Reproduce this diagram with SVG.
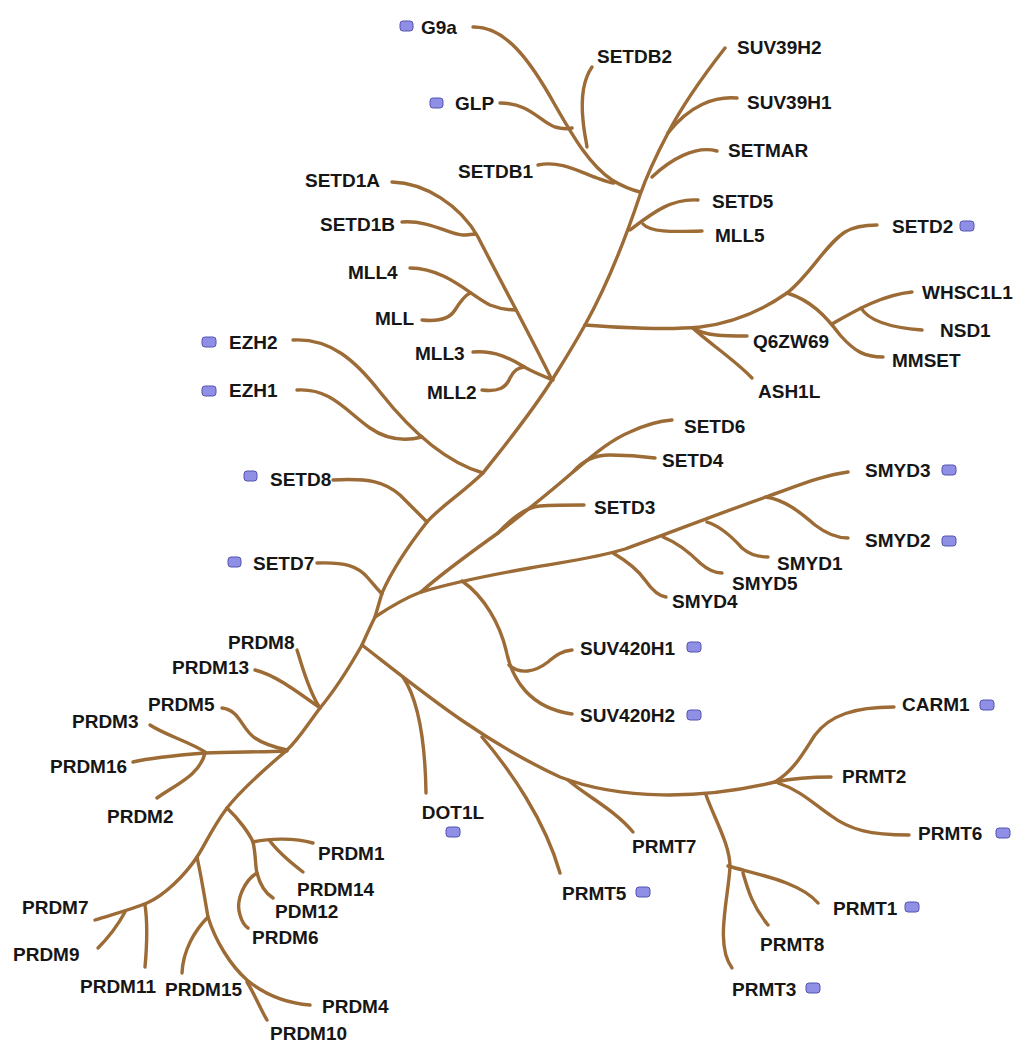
<svg xmlns="http://www.w3.org/2000/svg" width="1015" height="1043" viewBox="0 0 1015 1043">
<style>
.b{fill:none;stroke:#9c6b36;stroke-width:3.4;stroke-linecap:round;stroke-linejoin:round}
.t{font-family:"Liberation Sans",Arial,sans-serif;font-weight:bold;font-size:19px;fill:#161616}
.m{fill:#8f8fe6;stroke:#5555b0;stroke-width:1}
</style>
<rect width="1015" height="1043" fill="#ffffff"/>
<g id="connectors">
<!-- trunk -->
<path class="b" d="M725,48 C700,80 680,110 668,133 C658,152 647,175 640,195 C630,225 610,280 585,325 C570,352 560,367 552,380 C530,415 505,445 483,473 C460,495 440,507 427,522 C405,550 390,575 382,593 L375,617 C370,627 366,636 362,645 C345,675 335,690 320,708 C305,728 298,740 287,750 C270,765 245,785 227,808 C212,828 205,845 197,857 C185,875 165,895 147,903 C130,910 110,915 95,920"/>
<!-- top clade -->
<path class="b" d="M473,27 C505,26 530,60 555,105 C575,140 590,165 612,180 C622,186 632,190 640,192"/>
<path class="b" d="M500,103 C530,103 540,122 555,127 C562,129 568,129 572,128"/>
<path class="b" d="M592,67 C583,80 581,100 583,120 C584,132 586,140 587,147"/>
<path class="b" d="M538,165 C560,160 580,172 597,178 C605,181 610,183 614,183"/>
<path class="b" d="M737,98 C715,96 690,105 668,133"/>
<path class="b" d="M717,151 C695,145 670,160 652,177"/>
<path class="b" d="M630,230 C650,215 670,198 698,200"/>
<path class="b" d="M643,224 C650,232 670,232 702,231"/>
<!-- SETD2 clade -->
<path class="b" d="M585,325 C620,328 670,330 700,327 C740,322 770,305 787,293 C810,275 825,245 845,232 C855,226 865,225 877,225"/>
<path class="b" d="M693,328 C705,336 725,336 747,336"/>
<path class="b" d="M693,328 C705,340 735,360 752,378"/>
<path class="b" d="M787,293 C810,300 825,315 840,335 C855,352 865,357 883,357"/>
<path class="b" d="M832,324 C850,314 880,295 912,292"/>
<path class="b" d="M861,308 C870,323 895,328 922,330"/>
<!-- SETD1 / MLL clade -->
<path class="b" d="M392,182 C425,183 460,205 478,237 C500,280 530,335 552,380"/>
<path class="b" d="M402,222 C430,220 450,235 463,235 C468,235 472,234 476,234"/>
<path class="b" d="M410,268 C445,268 470,295 490,305 C500,309 508,310 516,310"/>
<path class="b" d="M422,320 C440,322 450,318 455,310 C460,302 464,296 470,293"/>
<path class="b" d="M473,352 C500,350 515,362 530,370 C540,375 548,378 553,380"/>
<path class="b" d="M482,390 C498,392 506,388 510,378 C514,370 518,368 524,367"/>
<!-- EZH, SETD8, SETD7 -->
<path class="b" d="M293,340 C330,338 355,360 380,392 C410,430 445,462 483,473"/>
<path class="b" d="M297,390 C330,388 345,410 370,428 C390,442 410,440 422,437"/>
<path class="b" d="M333,480 C370,478 385,482 400,495 C412,507 420,515 427,522"/>
<path class="b" d="M317,563 C345,562 358,566 368,578 C374,585 378,590 382,594"/>
<!-- SETD / SMYD clade -->
<path class="b" d="M375,617 C390,607 405,598 421,592 C440,575 470,553 498,533 C525,512 550,492 573,472 C590,458 610,440 630,432 C645,425 658,421 672,420"/>
<path class="b" d="M498,533 C510,520 525,507 540,506 C555,505 568,505 584,505"/>
<path class="b" d="M573,472 C585,458 600,455 610,455 C625,455 640,456 655,458"/>
<path class="b" d="M421,592 C455,582 490,575 530,568 C570,561 600,557 625,549 C670,533 720,513 766,497 C795,487 820,476 848,472"/>
<path class="b" d="M613,553 C625,560 638,570 645,580 C652,590 658,596 666,597"/>
<path class="b" d="M663,537 C678,543 690,553 700,563 C708,570 714,573 722,573"/>
<path class="b" d="M707,522 C720,526 733,538 742,548 C750,555 758,557 768,557"/>
<path class="b" d="M766,497 C785,500 800,512 815,525 C828,535 838,538 848,538"/>
<path class="b" d="M462,581 C485,597 500,625 506,650 C512,680 530,708 572,714"/>
<path class="b" d="M509,665 C520,675 535,672 548,662 C556,655 562,651 572,650"/>
<!-- PRMT / DOT1L clade -->
<path class="b" d="M362,645 C420,690 480,740 560,777 C620,800 700,800 775,782"/>
<path class="b" d="M403,677 C415,695 425,730 426,793"/>
<path class="b" d="M482,737 C510,770 545,820 560,873"/>
<path class="b" d="M568,780 C585,795 615,810 633,832"/>
<path class="b" d="M706,795 C715,820 730,845 730,867 C728,900 715,945 732,968"/>
<path class="b" d="M728,866 C760,875 800,882 818,903"/>
<path class="b" d="M743,873 C748,890 752,905 768,925"/>
<path class="b" d="M775,782 C795,770 805,750 815,735 C830,715 855,707 894,707"/>
<path class="b" d="M775,782 C795,778 815,777 831,777"/>
<path class="b" d="M778,783 C800,790 815,805 830,815 C850,830 870,835 909,835"/>
<!-- PRDM clade -->
<path class="b" d="M297,650 C302,665 308,690 320,708"/>
<path class="b" d="M255,670 C275,675 295,690 320,708"/>
<path class="b" d="M222,708 C240,710 242,730 255,738 C265,745 278,748 287,750"/>
<path class="b" d="M287,751 C260,752 230,752 205,753 C180,755 150,758 133,762"/>
<path class="b" d="M150,725 C165,735 190,742 205,752"/>
<path class="b" d="M157,798 C175,785 200,775 205,753"/>
<path class="b" d="M227,808 C240,820 250,835 253,842 C256,855 255,865 257,873 C260,885 265,893 273,898"/>
<path class="b" d="M253,842 C270,838 295,838 313,843"/>
<path class="b" d="M270,841 C278,852 290,862 303,872"/>
<path class="b" d="M257,873 C245,880 235,900 240,915 C242,922 245,926 248,928"/>
<path class="b" d="M197,857 C202,880 205,900 208,917 C215,940 230,965 247,980 C265,995 285,1003 310,1005"/>
<path class="b" d="M247,982 C255,995 260,1008 267,1020"/>
<path class="b" d="M208,917 C195,930 183,950 182,973"/>
<path class="b" d="M125,912 C118,925 108,938 98,948"/>
<path class="b" d="M145,905 C148,925 147,945 145,967"/>
</g>
<g id="n-G9a"><rect class="m" x="400" y="21" width="13" height="10" rx="3"/><text class="t" x="421" y="34">G9a</text></g>
<g id="n-GLP"><rect class="m" x="430" y="98" width="13" height="10" rx="3"/><text class="t" x="455" y="110">GLP</text></g>
<g id="n-SETDB2"><text class="t" x="597" y="63">SETDB2</text></g>
<g id="n-SETDB1"><text class="t" x="458" y="178">SETDB1</text></g>
<g id="n-SUV39H2"><text class="t" x="737" y="54">SUV39H2</text></g>
<g id="n-SUV39H1"><text class="t" x="747" y="109">SUV39H1</text></g>
<g id="n-SETMAR"><text class="t" x="728" y="157">SETMAR</text></g>
<g id="n-SETD5"><text class="t" x="712" y="208">SETD5</text></g>
<g id="n-MLL5"><text class="t" x="715" y="242">MLL5</text></g>
<g id="n-SETD1A"><text class="t" x="305" y="187">SETD1A</text></g>
<g id="n-SETD1B"><text class="t" x="320" y="231">SETD1B</text></g>
<g id="n-MLL4"><text class="t" x="348" y="279">MLL4</text></g>
<g id="n-MLL"><text class="t" x="375" y="325">MLL</text></g>
<g id="n-EZH2"><rect class="m" x="202" y="337" width="14" height="10" rx="3"/><text class="t" x="229" y="349">EZH2</text></g>
<g id="n-EZH1"><rect class="m" x="202" y="386" width="14" height="10" rx="3"/><text class="t" x="229" y="397">EZH1</text></g>
<g id="n-MLL3"><text class="t" x="415" y="360">MLL3</text></g>
<g id="n-MLL2"><text class="t" x="427" y="399">MLL2</text></g>
<g id="n-SETD2"><text class="t" x="892" y="233">SETD2</text><rect class="m" x="960" y="221" width="14" height="10" rx="3"/></g>
<g id="n-WHSC1L1"><text class="t" x="922" y="299">WHSC1L1</text></g>
<g id="n-NSD1"><text class="t" x="940" y="337">NSD1</text></g>
<g id="n-MMSET"><text class="t" x="892" y="367">MMSET</text></g>
<g id="n-Q6ZW69"><text class="t" x="753" y="348">Q6ZW69</text></g>
<g id="n-ASH1L"><text class="t" x="758" y="398">ASH1L</text></g>
<g id="n-SETD6"><text class="t" x="684" y="433">SETD6</text></g>
<g id="n-SETD4"><text class="t" x="662" y="467">SETD4</text></g>
<g id="n-SETD3"><text class="t" x="594" y="514">SETD3</text></g>
<g id="n-SMYD3"><text class="t" x="865" y="477">SMYD3</text><rect class="m" x="942" y="465" width="14" height="10" rx="3"/></g>
<g id="n-SMYD2"><text class="t" x="865" y="547">SMYD2</text><rect class="m" x="942" y="536" width="14" height="10" rx="3"/></g>
<g id="n-SMYD1"><text class="t" x="777" y="570">SMYD1</text></g>
<g id="n-SMYD5"><text class="t" x="732" y="590">SMYD5</text></g>
<g id="n-SMYD4"><text class="t" x="672" y="608">SMYD4</text></g>
<g id="n-SETD8"><rect class="m" x="244" y="471" width="13" height="10" rx="3"/><text class="t" x="270" y="486">SETD8</text></g>
<g id="n-SETD7"><rect class="m" x="228" y="557" width="13" height="10" rx="3"/><text class="t" x="253" y="570">SETD7</text></g>
<g id="n-SUV420H1"><text class="t" x="580" y="655">SUV420H1</text><rect class="m" x="687" y="642" width="14" height="10" rx="3"/></g>
<g id="n-SUV420H2"><text class="t" x="580" y="722">SUV420H2</text><rect class="m" x="687" y="710" width="14" height="10" rx="3"/></g>
<g id="n-PRDM8"><text class="t" x="228" y="649">PRDM8</text></g>
<g id="n-PRDM13"><text class="t" x="172" y="674">PRDM13</text></g>
<g id="n-PRDM5"><text class="t" x="148" y="711">PRDM5</text></g>
<g id="n-PRDM3"><text class="t" x="72" y="728">PRDM3</text></g>
<g id="n-PRDM16"><text class="t" x="50" y="773">PRDM16</text></g>
<g id="n-PRDM2"><text class="t" x="107" y="823">PRDM2</text></g>
<g id="n-PRDM1"><text class="t" x="318" y="860">PRDM1</text></g>
<g id="n-PRDM14"><text class="t" x="297" y="896">PRDM14</text></g>
<g id="n-PDM12"><text class="t" x="275" y="918">PDM12</text></g>
<g id="n-PRDM6"><text class="t" x="252" y="944">PRDM6</text></g>
<g id="n-PRDM7"><text class="t" x="22" y="914">PRDM7</text></g>
<g id="n-PRDM9"><text class="t" x="13" y="961">PRDM9</text></g>
<g id="n-PRDM11"><text class="t" x="80" y="993">PRDM11</text></g>
<g id="n-PRDM15"><text class="t" x="165" y="996">PRDM15</text></g>
<g id="n-PRDM4"><text class="t" x="322" y="1013">PRDM4</text></g>
<g id="n-PRDM10"><text class="t" x="270" y="1040">PRDM10</text></g>
<g id="n-DOT1L"><text class="t" x="453" y="819" text-anchor="middle">DOT1L</text><rect class="m" x="446" y="827" width="14" height="10" rx="3"/></g>
<g id="n-CARM1"><text class="t" x="902" y="711">CARM1</text><rect class="m" x="980" y="700" width="14" height="10" rx="3"/></g>
<g id="n-PRMT2"><text class="t" x="842" y="783">PRMT2</text></g>
<g id="n-PRMT6"><text class="t" x="918" y="840">PRMT6</text><rect class="m" x="996" y="828" width="14" height="10" rx="3"/></g>
<g id="n-PRMT7"><text class="t" x="632" y="853">PRMT7</text></g>
<g id="n-PRMT5"><text class="t" x="562" y="900">PRMT5</text><rect class="m" x="636" y="887" width="14" height="10" rx="3"/></g>
<g id="n-PRMT1"><text class="t" x="833" y="915">PRMT1</text><rect class="m" x="905" y="902" width="14" height="10" rx="3"/></g>
<g id="n-PRMT8"><text class="t" x="760" y="951">PRMT8</text></g>
<g id="n-PRMT3"><text class="t" x="732" y="996">PRMT3</text><rect class="m" x="806" y="983" width="14" height="10" rx="3"/></g>
</svg>
